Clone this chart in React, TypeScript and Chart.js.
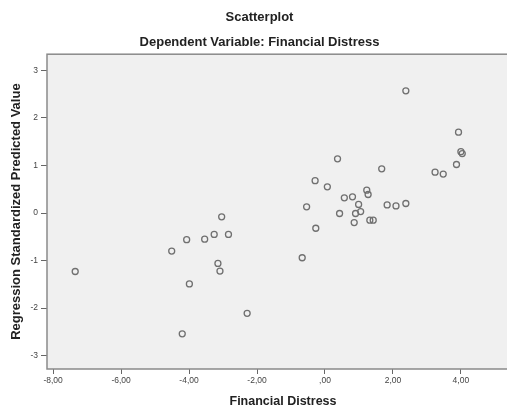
import React, { useEffect, useRef } from "react";
import { Chart, registerables } from "chart.js";

Chart.register(...registerables);

// Financial Distress (x) vs Regression Standardized Predicted Value (y)
const financialDistress = [
  -7.35, -3.04, -4.07, -3.54, -3.26, -2.84, -4.51, -3.15, -3.09, -3.99, -2.29, -4.2,
  0.37, 1.67, -0.29, 0.07, 1.23, 1.27, 0.57, 0.81, -0.54, 0.99, 1.83, 2.09, 2.38,
  0.43, 0.9, 1.05, 0.86, 1.32, 1.42, -0.27, -0.67,
  2.38, 3.93, 4.0, 4.04, 3.87, 3.24, 3.48,
];
const predictedValue = [
  -1.23, -0.08, -0.56, -0.55, -0.45, -0.45, -0.8, -1.06, -1.22, -1.49, -2.11, -2.54,
  1.14, 0.93, 0.68, 0.55, 0.48, 0.39, 0.32, 0.34, 0.13, 0.18, 0.17, 0.15, 0.2,
  -0.01, -0.01, 0.03, -0.2, -0.15, -0.15, -0.32, -0.94,
  2.57, 1.7, 1.29, 1.25, 1.02, 0.86, 0.82,
];

const xTickValues = [-8, -6, -4, -2, 0, 2, 4];
const xTickLabels = ["-8,00", "-6,00", "-4,00", "-2,00", ",00", "2,00", "4,00"];
const yTickValues = [-3, -2, -1, 0, 1, 2, 3];
const yTickLabels = ["-3", "-2", "-1", "0", "1", "2", "3"];

const chartTitle = "Scatterplot";
const chartSubtitle = "Dependent Variable: Financial Distress";
const xAxisTitle = "Financial Distress";
const yAxisTitle = "Regression Standardized Predicted Value";

const FONT = 'Arial, "Liberation Sans", sans-serif';

const plotFrame = {
  id: "plotFrame",
  beforeDatasetsDraw(chart: any) {
    const { ctx, chartArea } = chart;
    ctx.save();
    ctx.fillStyle = "#f0f0f0";
    ctx.fillRect(chartArea.left, chartArea.top, chartArea.right - chartArea.left, chartArea.bottom - chartArea.top);
    ctx.restore();
  },
  afterDraw(chart: any) {
    const { ctx, chartArea } = chart;
    ctx.save();
    ctx.strokeStyle = "#8a8a8a";
    ctx.lineWidth = 1.5;
    ctx.strokeRect(chartArea.left, chartArea.top, chartArea.right - chartArea.left, chartArea.bottom - chartArea.top);
    ctx.restore();
  },
};

export default function App() {
  const ref = useRef<HTMLCanvasElement | null>(null);

  useEffect(() => {
    if (!ref.current) return;
    const data = financialDistress.map((x, i) => ({ x, y: predictedValue[i] }));
    const chart = new Chart(ref.current, {
      type: "scatter",
      data: {
        datasets: [
          {
            data,
            pointStyle: "circle",
            pointRadius: 3,
            pointHoverRadius: 3,
            borderWidth: 1.3,
            borderColor: "#707070",
            backgroundColor: "rgba(0,0,0,0)",
          },
        ],
      },
      plugins: [plotFrame],
      options: {
        responsive: false,
        animation: false,
        events: [],
        layout: { padding: { left: 0, right: 5, top: 0, bottom: 0 } },
        plugins: {
          legend: { display: false },
          tooltip: { enabled: false },
          title: {
            display: true,
            text: chartTitle,
            color: "#222",
            font: { family: FONT, size: 13, weight: "bold" },
            padding: { top: 10, bottom: 0 },
          },
          subtitle: {
            display: true,
            text: chartSubtitle,
            color: "#222",
            font: { family: FONT, size: 13, weight: "bold" },
            padding: { top: 9.5, bottom: 3.5 },
          },
        },
        scales: {
          x: {
            type: "linear",
            min: -8.18,
            max: 5.71,
            afterFit(scale: any) {
              scale.height = 40;
            },
            afterBuildTicks(scale: any) {
              scale.ticks = xTickValues.map((v) => ({ value: v }));
            },
            ticks: {
              autoSkip: false,
              maxRotation: 0,
              padding: 2,
              color: "#444",
              font: { family: FONT, size: 8.5 },
              callback: (v: any) => xTickLabels[xTickValues.indexOf(Number(v))] ?? "",
            },
            grid: { drawOnChartArea: false, drawTicks: true, tickLength: 5, color: "#666", lineWidth: 1 },
            border: { display: false },
            title: {
              display: true,
              text: xAxisTitle,
              color: "#222",
              font: { family: FONT, size: 12.5, weight: "bold" },
              padding: { top: 0, bottom: 0 },
            },
          },
          y: {
            type: "linear",
            min: -3.28,
            max: 3.34,
            afterFit(scale: any) {
              scale.width = 47;
            },
            afterBuildTicks(scale: any) {
              scale.ticks = yTickValues.map((v) => ({ value: v }));
            },
            ticks: {
              autoSkip: false,
              padding: 3,
              color: "#444",
              font: { family: FONT, size: 8.5 },
              callback: (v: any) => yTickLabels[yTickValues.indexOf(Number(v))] ?? "",
            },
            grid: { drawOnChartArea: false, drawTicks: true, tickLength: 6, color: "#666", lineWidth: 1 },
            border: { display: false },
            title: {
              display: true,
              text: yAxisTitle,
              color: "#222",
              font: { family: FONT, size: 13, weight: "bold" },
              padding: { top: 9, bottom: 0 },
            },
          },
        },
      },
    } as any);
    return () => chart.destroy();
  }, []);

  return (
    <div
      style={{
        position: "fixed",
        left: 0,
        top: 0,
        width: 507,
        height: 409,
        overflow: "hidden",
        background: "#fff",
      }}
    >
      <canvas ref={ref} width={524} height={409} style={{ width: 524, height: 409, display: "block" }} />
    </div>
  );
}
